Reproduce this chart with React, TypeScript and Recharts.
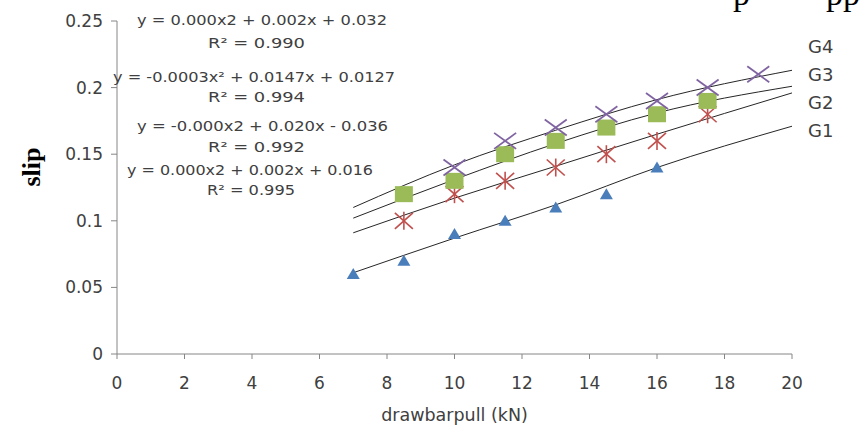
import React from 'react';
import { ComposedChart, XAxis, YAxis, Scatter, Line } from 'recharts';

// ---- data ----
const xTicks = [0, 2, 4, 6, 8, 10, 12, 14, 16, 18, 20];
const yTicks = [0, 0.05, 0.1, 0.15, 0.2, 0.25];

const g1X = [7, 8.5, 10, 11.5, 13, 14.5, 16];
const g1Y = [0.06, 0.07, 0.09, 0.1, 0.11, 0.12, 0.14];
const g2X = [8.5, 10, 11.5, 13, 14.5, 16, 17.5];
const g2Y = [0.1, 0.12, 0.13, 0.14, 0.15, 0.16, 0.18];
const g3X = [8.5, 10, 11.5, 13, 14.5, 16, 17.5];
const g3Y = [0.12, 0.13, 0.15, 0.16, 0.17, 0.18, 0.19];
const g4X = [10, 11.5, 13, 14.5, 16, 17.5, 19];
const g4Y = [0.14, 0.16, 0.17, 0.18, 0.19, 0.2, 0.21];

// trendlines
const trendX = [7, 10, 13, 16, 20];
const t1Y = [0.061, 0.087, 0.112, 0.14, 0.171];
const t2Y = [0.091, 0.117, 0.141, 0.165, 0.196];
const t3Y = [0.102, 0.131, 0.158, 0.181, 0.201];
const t4Y = [0.11, 0.142, 0.168, 0.191, 0.213];

const legendNames = ['G4', 'G3', 'G2', 'G1'];
const equations = [
  'y = 0.000x2 + 0.002x + 0.032',
  'R² = 0.990',
  'y = -0.0003x² + 0.0147x + 0.0127',
  'R² = 0.994',
  'y = -0.000x2 + 0.020x - 0.036',
  'R² = 0.992',
  'y = 0.000x2 + 0.002x + 0.016',
  'R² = 0.995',
];
const eqLayout = [
  { x: 137, y: 25, w: 250 },
  { x: 208, y: 48, w: 97 },
  { x: 113, y: 82, w: 282 },
  { x: 208, y: 102, w: 97 },
  { x: 137, y: 131, w: 251 },
  { x: 208, y: 152, w: 97 },
  { x: 127, y: 175, w: 246 },
  { x: 207, y: 195, w: 88 },
];

const zip = (xs: number[], ys: number[]) => xs.map((x, i) => ({ x, y: ys[i] }));
const d1 = zip(g1X, g1Y);
const d2 = zip(g2X, g2Y);
const d3 = zip(g3X, g3Y);
const d4 = zip(g4X, g4Y);
const tr1 = zip(trendX, t1Y);
const tr2 = zip(trendX, t2Y);
const tr3 = zip(trendX, t3Y);
const tr4 = zip(trendX, t4Y);

const BLUE = '#4a7ebb';
const RED = '#c0504d';
const GREEN = '#9bbb59';
const PURPLE = '#8064a2';
const TEXT = '#404040';
const AXIS = '#868686';
const FONT = 'DejaVu Sans';

const Triangle = (p: any) => {
  const { cx, cy } = p;
  return <path d={`M${cx},${cy - 6} L${cx + 6.5},${cy + 5} L${cx - 6.5},${cy + 5} Z`} fill={BLUE} />;
};
const Square = (p: any) => {
  const { cx, cy } = p;
  return <rect x={cx - 9} y={cy - 8} width={18} height={16} fill={GREEN} />;
};
const Star = (p: any) => {
  const { cx, cy } = p;
  return (
    <g stroke={RED} strokeWidth={1.6}>
      <line x1={cx - 9} y1={cy - 8} x2={cx + 9} y2={cy + 8} />
      <line x1={cx - 9} y1={cy + 8} x2={cx + 9} y2={cy - 8} />
      <line x1={cx} y1={cy - 9} x2={cx} y2={cy + 9} />
    </g>
  );
};
const Cross = (p: any) => {
  const { cx, cy } = p;
  return (
    <g stroke={PURPLE} strokeWidth={1.8}>
      <line x1={cx - 11} y1={cy - 8} x2={cx + 11} y2={cy + 8} />
      <line x1={cx - 11} y1={cy + 8} x2={cx + 11} y2={cy - 8} />
    </g>
  );
};

export default function App() {
  return (
    <div style={{ position: 'absolute', left: 0, top: 0, width: 863, height: 432, background: '#fff' }}>
      <ComposedChart width={863} height={432} margin={{ top: 21, right: 71, left: 0, bottom: 0 }}>
        <XAxis
          type="number"
          dataKey="x"
          domain={[0, 20]}
          ticks={xTicks}
          allowDataOverflow
          height={78}
          stroke={AXIS}
          tickSize={5}
          tickMargin={18}
          tick={{ fill: TEXT, fontSize: 17, fontFamily: FONT }}
          label={{ value: 'drawbarpull (kN)', position: 'insideBottom', offset: 11, fill: TEXT, fontSize: 17.5, fontFamily: FONT }}
        />
        <YAxis
          type="number"
          dataKey="y"
          domain={[0, 0.25]}
          ticks={yTicks}
          allowDataOverflow
          width={117}
          stroke={AXIS}
          tickSize={6}
          tickMargin={8}
          tick={{ fill: TEXT, fontSize: 17, fontFamily: FONT }}
        />
        <Scatter name="G1" data={d1} shape={<Triangle />} isAnimationActive={false} />
        <Scatter name="G2" data={d2} shape={<Star />} isAnimationActive={false} />
        <Scatter name="G3" data={d3} shape={<Square />} isAnimationActive={false} />
        <Scatter name="G4" data={d4} shape={<Cross />} isAnimationActive={false} />
        <Line data={tr1} dataKey="y" type="monotone" stroke="#262626" strokeWidth={1} dot={false} activeDot={false} isAnimationActive={false} legendType="none" />
        <Line data={tr2} dataKey="y" type="monotone" stroke="#262626" strokeWidth={1} dot={false} activeDot={false} isAnimationActive={false} legendType="none" />
        <Line data={tr3} dataKey="y" type="monotone" stroke="#262626" strokeWidth={1} dot={false} activeDot={false} isAnimationActive={false} legendType="none" />
        <Line data={tr4} dataKey="y" type="monotone" stroke="#262626" strokeWidth={1} dot={false} activeDot={false} isAnimationActive={false} legendType="none" />
      </ComposedChart>
      <svg width={863} height={432} style={{ position: 'absolute', left: 0, top: 0, pointerEvents: 'none' }}>
        {equations.map((t, i) => (
          <text
            key={i}
            x={eqLayout[i].x}
            y={eqLayout[i].y}
            textLength={eqLayout[i].w}
            lengthAdjust="spacingAndGlyphs"
            fontFamily={FONT}
            fontSize={14}
            fill={TEXT}
          >
            {t}
          </text>
        ))}
        {legendNames.map((n, i) => (
          <text key={n} x={808} y={53 + i * 28} fontFamily={FONT} fontSize={18} fill={TEXT}>
            {n}
          </text>
        ))}
        <text
          transform="translate(40,167) rotate(-90)"
          textAnchor="middle"
          fontFamily="Liberation Serif"
          fontWeight="bold"
          fontSize={26}
          fill="#000"
        >
          slip
        </text>
        <text x={733} y={5} fontFamily="Liberation Serif" fontSize={34} fill="#000">p</text>
        <text x={826} y={5} fontFamily="Liberation Serif" fontSize={34} fill="#000">pp</text>
      </svg>
    </div>
  );
}
